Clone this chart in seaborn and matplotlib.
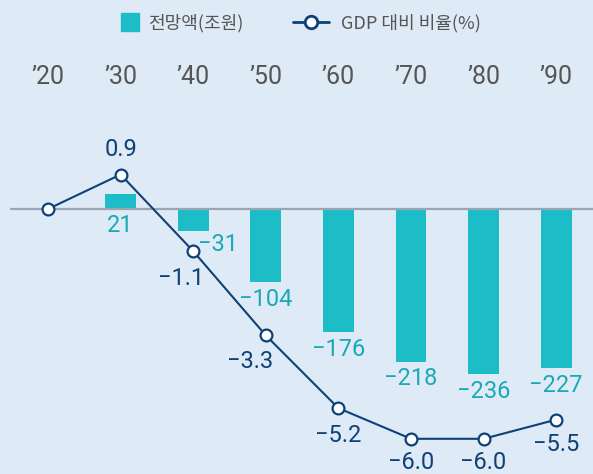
import numpy as np
import pandas as pd
import matplotlib
matplotlib.use("Agg")
import matplotlib.pyplot as plt
from matplotlib.lines import Line2D
import seaborn as sns

# ---- data ----
years = ["\u201920", "\u201930", "\u201940", "\u201950", "\u201960", "\u201970", "\u201980", "\u201990"]
amount = [np.nan, 21, -31, -104, -176, -218, -236, -227]      # 전망액(조원)
ratio = [0.0, 0.9, -1.1, -3.3, -5.2, -6.0, -6.0, -5.5]        # GDP 대비 비율(%)
ratio_labels = [None, "0.9", "\u22121.1", "\u22123.3", "\u22125.2", "\u22126.0", "\u22126.0", "\u22125.5"]
amount_labels = [None, "21", "\u221231", "\u2212104", "\u2212176", "\u2212218", "\u2212236", "\u2212227"]

BG = "#deeaf6"
TEAL = "#1dbdc8"
TEAL_TXT = "#1aa9b6"
NAVY = "#0d4177"
GRAY = "#555555"

sns.set_theme(style="white")
plt.rcParams["font.family"] = ["Roboto", "Noto Sans CJK KR", "DejaVu Sans"]

W, H = 593, 474
fig = plt.figure(figsize=(W / 100, H / 100), dpi=100)
fig.patch.set_facecolor(BG)

top_px = 100
ax = fig.add_axes([0, 0, 1, (H - top_px) / H])
ax.set_facecolor(BG)

df = pd.DataFrame({"year": years, "amount": amount, "ratio": ratio})
sns.barplot(data=df, x="year", y="amount", order=years, color=TEAL,
            saturation=1, width=31 / 72.6, ax=ax, zorder=2,
            linewidth=0, edgecolor="none")

# scales
x0, step = 48, 72.6
ax.set_xlim(-x0 / step, (W - x0) / step)
zero_px = 209
below = H - zero_px
above = zero_px - top_px
bar_s = 0.70
ax.set_ylim(-below / bar_s, above / bar_s)

ax.axhline(0, xmin=11 / W, xmax=1, color="#9aa5b1", lw=1.6, zorder=3)

ax2 = ax.twinx()
line_s = 38.3
ax2.set_ylim(-below / line_s, above / line_s)
sns.lineplot(x=np.arange(len(years)), y=ratio, ax=ax2, color=NAVY, lw=1.5,
             marker="o", markersize=8.5, markerfacecolor="white",
             markeredgecolor=NAVY, markeredgewidth=1.6, zorder=5)

for a in (ax, ax2):
    a.set_xlabel("")
    a.set_ylabel("")
    a.set_yticks([])
    for s in a.spines.values():
        s.set_visible(False)
ax2.set_xlim(ax.get_xlim())

ax.xaxis.tick_top()
ax.set_xticks(range(len(years)))
ax.set_xticklabels(years)
ax.tick_params(axis="x", length=0, pad=8, labelsize=18, labelcolor=GRAY)

num_fs = 17
# bar labels
for i, (v, lab) in enumerate(zip(amount, amount_labels)):
    if lab is None:
        continue
    if v > 0:
        xy, off = (i, 0), (0, -12)
    elif i == 2:
        xy, off = (i, v), (18, -10)
    else:
        xy, off = (i, v), (0, -12.5)
    ax.annotate(lab, xy, xytext=off, textcoords="offset points",
                ha="center", va="center", fontsize=num_fs, color=TEAL_TXT,
                annotation_clip=False, zorder=6)

# ratio labels
r_off = {1: (0, 18), 2: (-9, -20), 3: (-11, -19), 4: (0, -20),
         5: (0, -17), 6: (0, -17), 7: (0, -18)}
for i, lab in enumerate(ratio_labels):
    if lab is None:
        continue
    ax2.annotate(lab, (i, ratio[i]), xytext=r_off[i], textcoords="offset points",
                 ha="center", va="center", fontsize=num_fs, color=NAVY,
                 annotation_clip=False, zorder=6)

leg_prop = {"family": ["Noto Sans CJK KR"], "size": 13}
ly = 1 - 23 / H
h1 = Line2D([], [], marker="s", color=TEAL, linestyle="none", markersize=12.5)
leg1 = fig.legend([h1], ["전망액(조원)"], loc="center left",
                  bbox_to_anchor=(121 / W, ly), frameon=False, prop=leg_prop,
                  handlelength=0.95, handletextpad=0.55, borderpad=0,
                  borderaxespad=0)
h2 = Line2D([], [], marker="o", color=NAVY, lw=2.0, markersize=9,
            markerfacecolor="white", markeredgecolor=NAVY, markeredgewidth=2.0)
leg2 = fig.legend([h2], ["GDP 대비 비율(%)"], loc="center left",
                  bbox_to_anchor=(293 / W, ly), frameon=False, prop=leg_prop,
                  handlelength=2.0, handletextpad=0.65, borderpad=0,
                  borderaxespad=0)
for lg in (leg1, leg2):
    for t in lg.get_texts():
        t.set_color(GRAY)

fig.savefig("out.png", dpi=100, facecolor=BG)
